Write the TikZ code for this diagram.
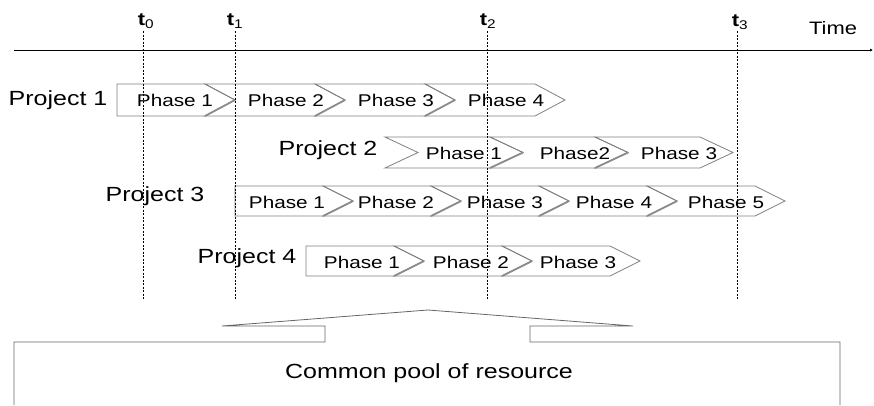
\documentclass[tikz,border=0pt]{standalone}
\usepackage{fontspec}
\setmainfont{Liberation Sans}[FakeStretch=1.22]
\usetikzlibrary{arrows.meta}
\newcommand\chevFlat[5]{\draw[chev] (#1,#4) -- (#2,#4) -- ({#2+#3},{(#4+#5)/2}) -- (#2,#5) -- (#1,#5) -- cycle;}
\newcommand\chevNotch[5]{\draw[chev] (#1,#4) -- (#2,#4) -- ({#2+#3},{(#4+#5)/2}) -- (#2,#5) -- (#1,#5) -- ({#1+#3},{(#4+#5)/2}) -- cycle;}
\newcommand\chevShade[4]{\draw[shade] ({#1+#2},{(#3+#4)/2}) -- (#1,#4);}
\begin{document}
\begin{tikzpicture}[x=1pt,y=-1pt,
  lbl/.style={font=\fontsize{20.5}{22}\selectfont, inner sep=0pt},
  ph/.style={font=\fontsize{17}{19}\selectfont, inner sep=0pt},
  tlab/.style={font=\fontsize{18}{20}\selectfont, inner sep=0pt},
  chev/.style={draw=black!50, line width=0.8pt},
  shade/.style={draw=black!45, line width=1.8pt},
  tline/.style={dash pattern=on 2pt off 1.5pt, line width=0.6pt},
  pool/.style={draw=black!60, line width=0.8pt}]
\useasboundingbox (0,0) rectangle (874,405);
% time axis
\coordinate (axs) at (14,50);
\coordinate (axe) at (873,50);
\draw[line width=0.7pt, -{Latex[length=3pt,width=3pt]}] (axs) -- (axe);
\node[tlab] (time) at (833,28) {Time};
% time labels
\node[tlab] (t0) at (146,21) {\textbf{t}\textsubscript{0}};
\node[tlab] (t1) at (235,21) {\textbf{t}\textsubscript{1}};
\node[tlab] (t2) at (488,21) {\textbf{t}\textsubscript{2}};
\node[tlab] (t3) at (740,22) {\textbf{t}\textsubscript{3}};
% Project 1
\node[lbl] (pr1) at (58,100) {Project 1};
\chevFlat{117}{205}{30}{84}{116}
\chevNotch{205}{315}{30}{84}{116}
\chevNotch{315}{425}{30}{84}{116}
\chevNotch{425}{535}{30}{84}{116}
\foreach \c in {205,315,425} {\chevShade{\c}{30}{84}{116}}
\node[ph] (p1a) at (175,100) {Phase 1};
\node[ph] (p1b) at (286,100) {Phase 2};
\node[ph] (p1c) at (396,100) {Phase 3};
\node[ph] (p1d) at (506,100) {Phase 4};
% Project 2
\node[lbl] (pr2) at (328,150) {Project 2};
\chevNotch{385}{490}{33}{137}{168}
\chevNotch{490}{595}{33}{137}{168}
\chevNotch{595}{700}{33}{137}{168}
\foreach \c in {490,595} {\chevShade{\c}{33}{137}{168}}
\node[ph] (p2a) at (464,153) {Phase 1};
\node[ph] (p2b) at (575,153) {Phase2};
\node[ph] (p2c) at (679,153) {Phase 3};
% Project 3
\node[lbl] (pr3) at (155,196) {Project 3};
\chevFlat{235}{323}{30}{186}{216}
\chevNotch{323}{431}{30}{186}{216}
\chevNotch{431}{539}{30}{186}{216}
\chevNotch{539}{647}{30}{186}{216}
\chevNotch{647}{755}{30}{186}{216}
\foreach \c in {323,431,539,647} {\chevShade{\c}{30}{186}{216}}
\node[ph] (p3a) at (287,202) {Phase 1};
\node[ph] (p3b) at (396,202) {Phase 2};
\node[ph] (p3c) at (505,202) {Phase 3};
\node[ph] (p3d) at (614,202) {Phase 4};
\node[ph] (p3e) at (726,202) {Phase 5};
% Project 4
\node[lbl] (pr4) at (247,258) {Project 4};
\chevFlat{306}{394}{30}{246}{276}
\chevNotch{394}{502}{30}{246}{276}
\chevNotch{502}{610}{30}{246}{276}
\foreach \c in {394,502} {\chevShade{\c}{30}{246}{276}}
\node[ph] (p4a) at (362,262) {Phase 1};
\node[ph] (p4b) at (471,262) {Phase 2};
\node[ph] (p4c) at (578,262) {Phase 3};
% dashed time lines
\foreach \n/\x in {0/143,1/235,2/487,3/737} {
  \coordinate (d\n a) at (\x,31);
  \coordinate (d\n b) at (\x,300);
  \draw[tline] (d\n a) -- (d\n b);
}
% common pool
\draw[pool] (14,405) -- (14,342) -- (325,342) -- (325,326) -- (222,326) -- (428,310)
  -- (633,326) -- (530,326) -- (530,342) -- (840,342) -- (840,405);
\node[lbl] (pool) at (429,373) {Common pool of resource};
\end{tikzpicture}
\end{document}
